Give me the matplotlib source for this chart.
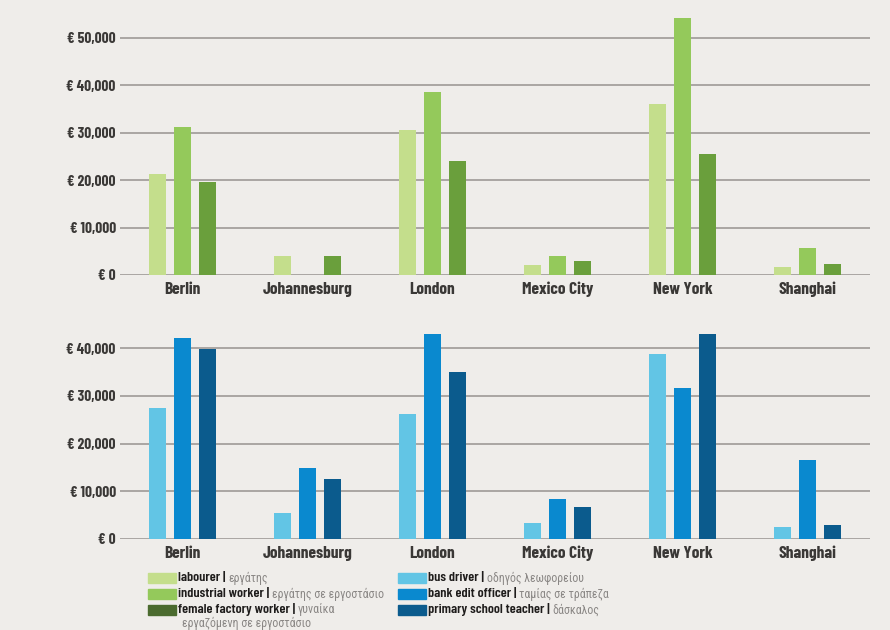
import matplotlib
matplotlib.use("Agg")
import matplotlib.pyplot as plt
import numpy as np
from matplotlib import font_manager
from matplotlib.ticker import FuncFormatter

cities = ["Berlin", "Johannesburg", "London", "Mexico City", "New York", "Shanghai"]

# top panel: factory / manual jobs (EUR per year)
labourer = [21200, 4100, 30500, 2100, 36000, 1750]
industrial_worker = [31200, 0, 38600, 4000, 54200, 5600]
female_factory_worker = [19600, 4100, 24000, 2950, 25400, 2250]

# bottom panel: service jobs
bus_driver = [27500, 5450, 26100, 3200, 38800, 2500]
bank_officer = [42200, 14800, 43000, 8350, 31700, 16500]
teacher = [39800, 12550, 35000, 6600, 42900, 2800]

top_ticks = [0, 10000, 20000, 30000, 40000, 50000]
bottom_ticks = [0, 10000, 20000, 30000, 40000]

legend_left = [("labourer", "εργάτης"),
               ("industrial worker", "εργάτης σε εργοστάσιο"),
               ("female factory worker", "γυναίκα")]
legend_left_extra = "εργαζόμενη σε εργοστάσιο"
legend_right = [("bus driver", "οδηγός λεωφορείου"),
                ("bank edit officer", "ταμίας σε τράπεζα"),
                ("primary school teacher", "δάσκαλος")]

greens = ["#c4de8c", "#94c95b", "#6a9f3c"]
blues = ["#62c5e5", "#0a89cf", "#0b5b8d"]
green_swatches = ["#c4de8c", "#94c95b", "#4b6b2f"]

BG = "#efedea"
GRID = "#aaa6a3"
DARK = "#3a3836"

# pick condensed faces that are actually installed, DejaVu as last resort
installed = {f.name for f in font_manager.fontManager.ttflist}
LATIN = [f for f in ["Barlow Condensed", "Roboto Condensed", "Fira Sans Condensed",
                     "Asap Condensed", "Archivo Narrow"] if f in installed] + ["DejaVu Sans"]
GREEK = [f for f in ["Roboto Condensed", "Fira Sans Condensed", "Open Sans Condensed",
                     "Noto Sans Display", "Noto Sans"] if f in installed] + ["DejaVu Sans"]

plt.rcParams["font.family"] = LATIN

fig = plt.figure(figsize=(8.9, 6.3), dpi=100, facecolor=BG)

W, H = 890, 630


def px_axes(left, top, right, bottom):
    return fig.add_axes([left / W, 1 - bottom / H, (right - left) / W, (bottom - top) / H])


def euro(v, _pos):
    return "€ 0" if v == 0 else f"€ {int(v):,}"


def draw_panel(ax, series, colors, ticks, ymax):
    ax.set_facecolor("none")
    x = np.arange(len(cities))
    offsets = [-0.2, 0.0, 0.2]
    for vals, col, off in zip(series, colors, offsets):
        ax.bar(x + off, vals, width=0.138, color=col, zorder=2)
    ax.set_xlim(-0.5, len(cities) - 0.5)
    ax.set_ylim(0, ymax)
    ax.set_yticks(ticks)
    ax.yaxis.set_major_formatter(FuncFormatter(euro))
    ax.set_xticks(x)
    ax.set_xticklabels(cities)
    ax.grid(axis="y", color=GRID, linewidth=1.4, zorder=0)
    ax.set_axisbelow(True)
    for s in ax.spines.values():
        s.set_visible(False)
    ax.tick_params(length=0, colors=DARK)
    ax.tick_params(axis="y", pad=3, labelsize=11)
    ax.tick_params(axis="x", pad=5, labelsize=12.5)
    for lab in ax.get_xticklabels() + ax.get_yticklabels():
        lab.set_fontweight("bold")
        lab.set_color(DARK)


ax_top = px_axes(120, 14, 870, 275)
draw_panel(ax_top, [labourer, industrial_worker, female_factory_worker], greens, top_ticks, 55000)

ax_bot = px_axes(120, 324.5, 870, 538.7)
draw_panel(ax_bot, [bus_driver, bank_officer, teacher], blues, bottom_ticks, 45000)

# legend drawn by hand: swatch + bold english + grey greek
renderer = fig.canvas.get_renderer()


def legend_row(x_sw, y_c, color, eng, greek):
    fig.patches.append(plt.Rectangle((x_sw / W, 1 - (y_c + 5) / H), 28 / W, 10 / H,
                                     transform=fig.transFigure, color=color, figure=fig))
    t = fig.text((x_sw + 30) / W, 1 - y_c / H, eng + " | ", fontsize=10.2, fontweight=600,
                 color="#1e1c1b", va="center", ha="left")
    bb = t.get_window_extent(renderer)
    fig.text(bb.x1 / W, 1 - y_c / H, greek, fontsize=8.6, color="#8a8785",
             va="center", ha="left", family=GREEK, fontstretch="condensed")


rows_y = [578, 594, 610]
for (eng, gr), col, y in zip(legend_left, green_swatches, rows_y):
    legend_row(148, y, col, eng, gr)
fig.text(182 / W, 1 - 623 / H, legend_left_extra, fontsize=8.6, color="#8a8785",
         va="center", ha="left", family=GREEK, fontstretch="condensed")
for (eng, gr), col, y in zip(legend_right, blues, rows_y):
    legend_row(398, y, col, eng, gr)

fig.savefig("out.png", dpi=100, facecolor=BG)
